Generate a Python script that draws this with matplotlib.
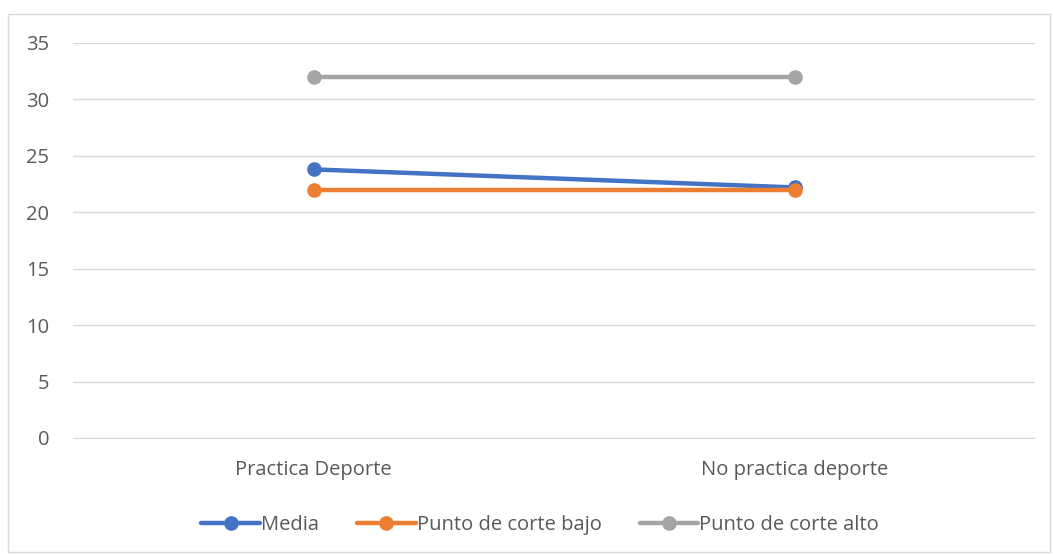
import matplotlib.pyplot as plt
from matplotlib.patches import Rectangle

categories = ["Practica Deporte", "No practica deporte"]
media = [23.8, 22.2]
corte_bajo = [22, 22]
corte_alto = [32, 32]
series_names = ["Media", "Punto de corte bajo", "Punto de corte alto"]
colors = ["#4472C4", "#ED7D31", "#A5A5A5"]
yticks = [0, 5, 10, 15, 20, 25, 30, 35]

plt.rcParams['font.family'] = ['Open Sans', 'DejaVu Sans']
text_color = "#595959"

fig = plt.figure(figsize=(10.53, 5.54), dpi=100)
ax = fig.add_axes([0.0693, 0.2094, 0.9137, 0.713])

x = list(range(len(categories)))
for vals, name, c in zip([media, corte_bajo, corte_alto], series_names, colors):
    ax.plot(x, vals, color=c, lw=3.2, marker='o', markersize=9.5, label=name,
            solid_capstyle='round')

ax.set_xlim(-0.5, len(categories) - 0.5)
ax.set_ylim(0, 35)
ax.set_yticks(yticks)
ax.set_xticks(x)
ax.set_xticklabels(categories)
ax.grid(axis='y', color='#D9D9D9', lw=1)
ax.set_axisbelow(True)
for s in ['top', 'right', 'left']:
    ax.spines[s].set_visible(False)
ax.spines['bottom'].set_color('#D9D9D9')
ax.tick_params(axis='both', length=0, labelsize=14.5, colors=text_color)
ax.tick_params(axis='y', pad=17)
ax.tick_params(axis='x', pad=16)

leg = fig.legend(loc='center', bbox_to_anchor=(0.513, 0.052), ncol=3, frameon=False,
                 fontsize=14.5, handlelength=2.9, handletextpad=0.05, columnspacing=1.9)
for t in leg.get_texts():
    t.set_color(text_color)

fig.patches.append(Rectangle((8 / 1053, 2 / 554), 1042 / 1053, 538 / 554,
                             transform=fig.transFigure, fill=False,
                             edgecolor='#D9D9D9', lw=1))

fig.savefig("out.png", dpi=100)
